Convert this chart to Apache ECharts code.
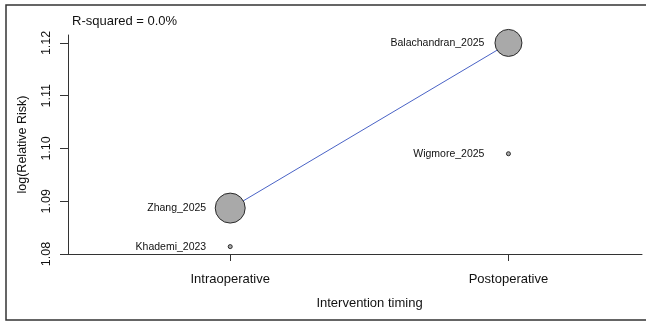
<!DOCTYPE html>
<html>
<head>
<meta charset="utf-8">
<script src="https://cdn.jsdelivr.net/npm/echarts@6/dist/echarts.min.js"></script>
<style>html,body{margin:0;padding:0;background:#fff}#c{width:646px;height:322px}</style>
</head>
<body>
<div id="c"></div>
<script>
// Studies
var studies = ['Khademi_2023', 'Zhang_2025', 'Wigmore_2025', 'Balachandran_2025'];
var timingIndex = [1, 1, 2, 2];            // 1 = Intraoperative, 2 = Postoperative
var logRR = [1.0814, 1.0887, 1.0990, 1.1200];
var weights = [0.9, 50, 0.9, 40.5];         // relative study weights (bubble area)
// Timing categories (x tick labels)
var timingLabels = ['Intraoperative', 'Postoperative'];
var timingTicks = [1, 2];
// Fitted meta-regression values per timing group
var fittedX = [1, 2];
var fittedY = [1.0886, 1.1199];
// Y tick labels
var yTicks = [1.08, 1.09, 1.10, 1.11, 1.12];
var rSquaredText = 'R-squared = 0.0%';

var font = '"Liberation Sans", Arial, Helvetica, sans-serif';
var chart = echarts.init(document.getElementById('c'), null, {renderer: 'canvas'});

var pts = studies.map(function (n, i) {
  return {name: n, value: [timingIndex[i], logRR[i]], w: weights[i]};
});
var fitted = fittedX.map(function (x, i) { return [x, fittedY[i]]; });

chart.setOption({
  animation: false,
  backgroundColor: '#fff',
  textStyle: {fontFamily: font},
  title: {
    text: rSquaredText, left: 67, top: 10,
    textStyle: {fontFamily: font, fontSize: 13, fontWeight: 'normal', color: '#111'}
  },
  graphic: [{
    type: 'rect', shape: {x: 6, y: 5, width: 660, height: 315},
    style: {fill: 'none', stroke: '#333', lineWidth: 1.5}, silent: true, z: 100
  }],
  grid: {left: 68, right: 4, top: 35, bottom: 68},
  xAxis: {
    type: 'value', min: 0.417, max: 2.48,
    name: 'Intervention timing', nameLocation: 'middle', nameGap: 43,
    nameTextStyle: {fontFamily: font, fontSize: 13, color: '#111', padding: [0, 0, 0, 29]},
    axisLine: {show: true, onZero: false, lineStyle: {color: '#333', width: 1}},
    axisTick: {show: true, length: 7, customValues: timingTicks, lineStyle: {color: '#333'}},
    axisLabel: {
      customValues: timingTicks, margin: 19, fontFamily: font, fontSize: 13, color: '#111',
      formatter: function (v) { return timingLabels[Math.round(v) - 1] || ''; }
    },
    splitLine: {show: false}
  },
  yAxis: {
    type: 'value', min: 1.08, max: 1.1215,
    name: 'log(Relative Risk)', nameLocation: 'middle', nameGap: 39, nameRotate: 90,
    nameTextStyle: {fontFamily: font, fontSize: 12.5, color: '#111'},
    axisLine: {show: true, onZero: false, lineStyle: {color: '#333', width: 1}},
    axisTick: {show: true, length: 8, customValues: yTicks, lineStyle: {color: '#333'}},
    axisLabel: {
      customValues: yTicks, rotate: 90, margin: 15, fontFamily: font, fontSize: 12.5, color: '#111',
      formatter: function (v) { return v.toFixed(2); }
    },
    splitLine: {show: false}
  },
  series: [{
    type: 'line', data: fitted, symbol: 'none', z: 1,
    lineStyle: {color: '#4a63c6', width: 1}
  }, {
    type: 'scatter', data: pts, z: 2,
    symbolSize: function (v, p) { return Math.max(4, 4.24 * Math.sqrt(p.data.w)); },
    itemStyle: {color: '#a9a9a9', borderColor: '#2a2a2a', borderWidth: 1, opacity: 1},
    label: {
      show: true, position: 'inside', align: 'right', verticalAlign: 'middle', offset: [-24, 0],
      formatter: function (p) { return p.name; },
      fontFamily: font, fontSize: 10.5, color: '#111'
    }
  }]
});
</script>
</body>
</html>
